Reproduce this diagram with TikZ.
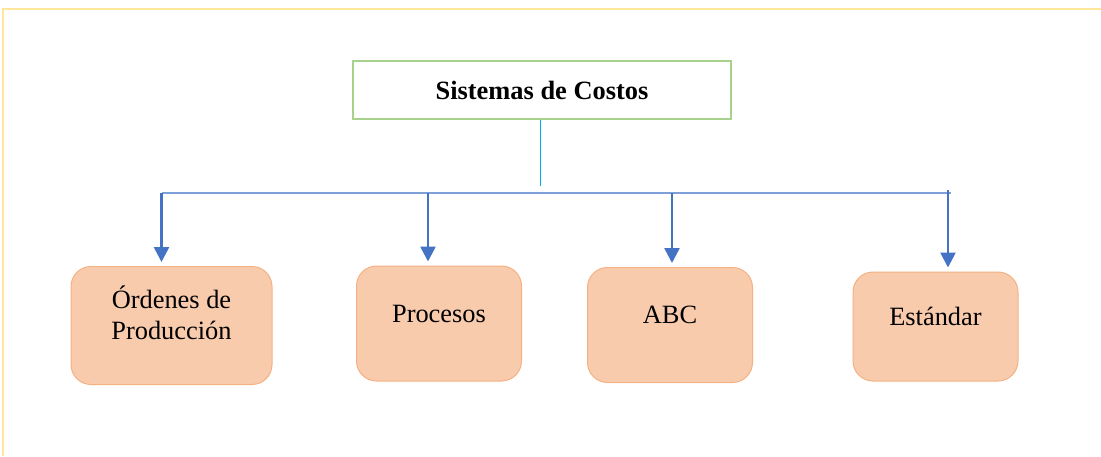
\documentclass[tikz,border=0pt]{standalone}
\usepackage{fontspec}
\setmainfont{Liberation Serif}
\usetikzlibrary{arrows.meta}
\definecolor{frameY}{HTML}{FFE699}
\definecolor{topG}{HTML}{A9D18E}
\definecolor{boxF}{HTML}{F8CBAD}
\definecolor{boxD}{HTML}{F4B183}
\definecolor{busB}{HTML}{7F9FD8}
\definecolor{arrB}{HTML}{4472C4}
\definecolor{cyanL}{HTML}{00B0F0}
\tikzset{
  topbox/.style={draw=topG, line width=1.5pt, minimum width=378pt, minimum height=58pt, inner sep=0pt,
    font=\fontsize{26.4}{31}\selectfont\bfseries},
  leafbox/.style={draw=boxD, fill=boxF, line width=1pt, rounded corners=20pt, inner sep=0pt},
  lbl/.style={font=\fontsize{26.4}{31}\selectfont, align=center, anchor=base, inner sep=0pt},
  bus/.style={draw=busB, line width=1.6pt},
  arr/.style={draw=arrB, line width=2.6pt, -{Triangle[length=15pt,width=15pt]}, shorten >=4pt},
}
\begin{document}
\begin{tikzpicture}[x=1pt,y=-1pt]
\useasboundingbox (0,0) rectangle (1101,456);
\draw[frameY, line width=2pt] (3,456) -- (3,9) -- (1101,9);
\node[topbox] (top) at (542,90) {Sistemas de Costos};
\node[leafbox, minimum width=201pt, minimum height=118pt] (b1) at (171.5,325.5) {};
\node[leafbox, minimum width=165pt, minimum height=115pt] (b2) at (439,323.5) {};
\node[leafbox, minimum width=165pt, minimum height=115pt] (b3) at (670,325) {};
\node[leafbox, minimum width=165pt, minimum height=109pt] (b4) at (935.5,326.5) {};
\node[lbl] (t1) at (171.5,339) {Órdenes de\\Producción};
\node[lbl] (t2) at (439,322) {Procesos};
\node[lbl] (t3) at (670,323) {ABC};
\node[lbl] (t4) at (935.5,325) {Estándar};
\coordinate (s) at (540.5,186);
\coordinate (j1) at (161.5,193);
\coordinate (j2) at (428,193);
\coordinate (j3) at (672,193);
\coordinate (j4) at (948,190);
\coordinate (je) at (951,193);
\draw[cyanL, line width=1.2pt] (top.south -| s) -- (s);
\draw[bus] (j1) -- (je);
\draw[arr] (j1) -- (j1 |- b1.north);
\draw[arr] (j2) -- (j2 |- b2.north);
\draw[arr] (j3) -- (j3 |- b3.north);
\draw[arr] (j4) -- (j4 |- b4.north);
\end{tikzpicture}
\end{document}
